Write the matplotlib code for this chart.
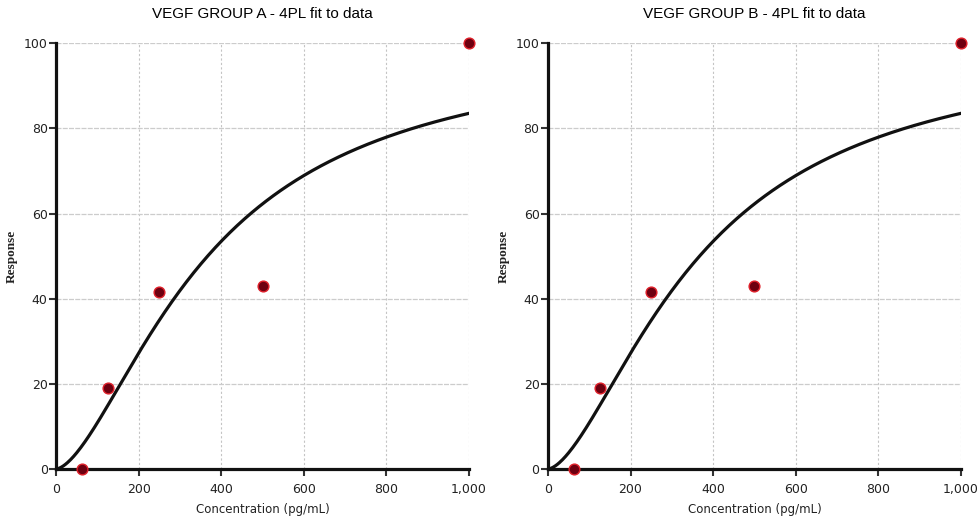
import numpy as np
import matplotlib.pyplot as plt

conc = [62.5, 125, 250, 500, 1000]
resp_a = [0, 19, 41.5, 43, 100]
resp_b = [0, 19, 41.5, 43, 100]

# 4PL fit parameters (bottom, top, ec50, hill)
fit_a = (0.0, 100.0, 367.0, 1.62)
fit_b = (0.0, 100.0, 367.0, 1.62)

titles = ['VEGF GROUP A - 4PL fit to data', 'VEGF GROUP B - 4PL fit to data']
xticks = [0, 200, 400, 600, 800, 1000]
xticklabels = ['0', '200', '400', '600', '800', '1,000']
yticks = [0, 20, 40, 60, 80, 100]


def four_pl(x, bottom, top, c, b):
    return top + (bottom - top) / (1 + (x / c) ** b)


fig = plt.figure(figsize=(9.79, 5.27), dpi=100)
lefts = [0.0572, 0.5597]
xs = np.linspace(0, 1000, 400)

for i, (resp, fit) in enumerate([(resp_a, fit_a), (resp_b, fit_b)]):
    ax = fig.add_axes([lefts[i], 0.110, 0.4219, 0.808])
    ax.grid(True, axis='x', color='#c4c4c4', linestyle=(0, (2, 2)), linewidth=0.8)
    ax.grid(True, axis='y', color='#cccccc', linestyle=(0, (4, 1)), linewidth=0.9)
    ax.set_axisbelow(True)
    ax.plot(xs, four_pl(xs, *fit), color='#111111', linewidth=2.3, zorder=3)
    ax.scatter(conc, resp, s=60, color='#6e0010', edgecolors='#e0202a',
               linewidths=1.0, zorder=4, clip_on=False)
    ax.set_xlim(0, 1000)
    ax.set_ylim(0, 100)
    ax.set_xticks(xticks)
    ax.set_xticklabels(xticklabels)
    ax.set_yticks(yticks)
    for s in ['top', 'right']:
        ax.spines[s].set_visible(False)
    for s in ['left', 'bottom']:
        ax.spines[s].set_linewidth(2.3)
        ax.spines[s].set_color('#111111')
    ax.tick_params(length=5, width=1.5, color='#333333', labelsize=9,
                   labelcolor='#222222')
    ax.tick_params(axis='x', pad=5)
    ax.tick_params(axis='y', pad=1)
    ax.set_title(titles[i], fontsize=11, family='Liberation Sans', pad=18)
    ax.set_xlabel('Concentration (pg/mL)', fontsize=8.5, color='#222222', labelpad=5)
    ax.set_ylabel('Response', fontsize=9.5, family='Liberation Serif',
                  fontweight='bold', color='#222222')
    ax.yaxis.set_label_coords(-0.092, 0.5)

fig.savefig('out.png', dpi=100)
